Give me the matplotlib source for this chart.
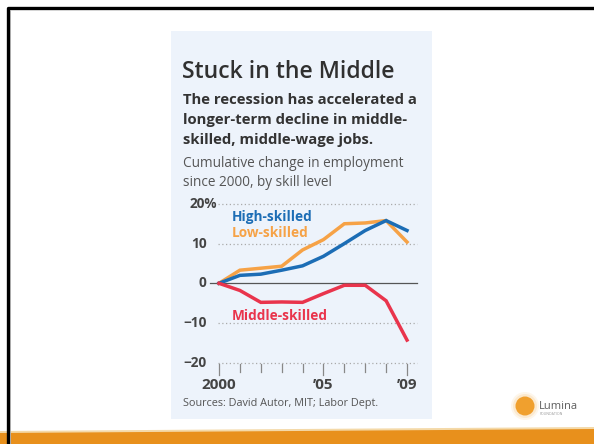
import matplotlib.pyplot as plt
import numpy as np
from matplotlib.patches import Rectangle, Polygon, Circle

plt.rcParams['font.family'] = ['Open Sans', 'DejaVu Sans']

# cumulative change in employment since 2000, percent
years = list(range(2000, 2010))
high_skilled = [0, 2.0, 2.3, 3.3, 4.4, 6.8, 10.0, 13.3, 15.8, 13.3]
low_skilled = [0, 3.3, 3.8, 4.3, 8.4, 11.0, 15.0, 15.2, 15.8, 10.4]
middle_skilled = [0, -1.8, -4.8, -4.7, -4.8, -2.6, -0.5, -0.5, -4.4, -14.3]

y_ticks = [20, 10, 0, -10, -20]
y_labels = ["20%", "10", "0", "\u221210", "\u221220"]
x_labels = {2000: "2000", 2005: "\u201905", 2009: "\u201909"}

BLUE = "#1c6db5"
ORANGE = "#f6a246"
RED = "#e9344c"
PANEL = "#edf3fb"

W, H = 594, 444
fig = plt.figure(figsize=(W / 100, H / 100), dpi=100)

# slide layer in pixel coordinates
bg = fig.add_axes([0, 0, 1, 1])
bg.set_xlim(0, W)
bg.set_ylim(H, 0)
bg.axis("off")

# slide frame
bg.plot([7.5, 7.5, W], [H, 8, 8], color="black", lw=2.4, solid_capstyle="butt")
bg.plot([10, 10], [10, H], color="#aaaaaa", lw=0.7)

# orange strip along the bottom
bg.add_patch(Polygon([[0, 431], [W, 427], [W, H], [0, H]], color="#f4d9a8", lw=0))
bg.add_patch(Polygon([[0, 433], [W, 429], [W, H], [0, H]], color="#e8901c", lw=0))

# logo
for r, a in [(14, 0.12), (12, 0.2)]:
    bg.add_patch(Circle((525, 406), r, color="#f6b860", alpha=a, lw=0))
bg.add_patch(Circle((525, 406), 9.5, color="#f0a02e", lw=0))
bg.text(539, 409, "Lumina", fontsize=8, color="#5d5d5d", va="baseline")
bg.text(540, 415, "FOUNDATION", fontsize=2.5, color="#999999", va="baseline")

# chart panel
bg.add_patch(Rectangle((171, 31), 261, 388, color=PANEL, lw=0))

bg.text(182, 78, "Stuck in the Middle", fontsize=16.6, color="#303030",
        fontweight="semibold", va="baseline")
subtitle = ["The recession has accelerated a",
            "longer-term decline in middle-",
            "skilled, middle-wage jobs."]
for i, line in enumerate(subtitle):
    bg.text(183, 104 + 20 * i, line, fontsize=10.7, color="#333333",
            fontweight="bold", va="baseline")
desc = ["Cumulative change in employment", "since 2000, by skill level"]
for i, line in enumerate(desc):
    bg.text(183, 166.5 + 19 * i, line, fontsize=9.8, color="#555555",
            va="baseline")
bg.text(183, 406, "Sources: David Autor, MIT; Labor Dept.", fontsize=7.8,
        color="#555555", va="baseline")

# line chart: 2000 at x=219px, 2009 at x=407px, 0 at y=283px, 10 units = 39.7px
x0, x1 = 200, 420
y0, y1 = 200, 375
px_year = (407 - 219) / 9
px_unit = 3.97
ax = fig.add_axes([x0 / W, 1 - y1 / H, (x1 - x0) / W, (y1 - y0) / H])
ax.set_xlim(2000 - (219 - x0) / px_year, 2009 + (x1 - 407) / px_year)
ax.set_ylim(-(y1 - 283.3) / px_unit, (283.3 - y0) / px_unit)
ax.axis("off")

grid_end = 2009.48
for v in y_ticks:
    if v == 0:
        ax.plot([1999.55, grid_end], [0, 0], color="#555555", lw=0.9)
    else:
        ax.plot([1999.95, grid_end], [v, v], color="#aaaaaa", lw=0.9,
                linestyle=(0, (1, 2)))

for v, lab in zip(y_ticks, y_labels):
    if lab == "20%":
        ax.text(1998.6, v, lab, ha="left", va="center", fontsize=9.8,
                fontweight="bold", color="#444444")
    else:
        ax.text(1999.4, v, lab, ha="right", va="center", fontsize=9.8,
                fontweight="bold", color="#444444")

for yr in years:
    ln = 2.6 if yr in x_labels else 2.0
    ax.plot([yr, yr], [-20.4, -20.4 - ln], color="#888888", lw=0.9,
            clip_on=False)
for yr, lab in x_labels.items():
    ax.text(yr, -26.5, lab, ha="center", va="baseline", fontsize=11,
            fontweight="bold", color="#444444", clip_on=False)

ax.plot(years, low_skilled, color=ORANGE, lw=2.5, solid_joinstyle="miter")
ax.plot(years, high_skilled, color=BLUE, lw=2.5, solid_joinstyle="miter")
ax.plot(years, middle_skilled, color=RED, lw=2.5, solid_joinstyle="miter")

ax.text(2000.62, 15.7, "High-skilled", color=BLUE, fontsize=9.8,
        fontweight="bold", va="baseline")
ax.text(2000.62, 11.6, "Low-skilled", color=ORANGE, fontsize=9.8,
        fontweight="bold", va="baseline")
ax.text(2000.62, -9.3, "Middle-skilled", color=RED, fontsize=9.8,
        fontweight="bold", va="baseline")

fig.savefig("out.png", dpi=100)
